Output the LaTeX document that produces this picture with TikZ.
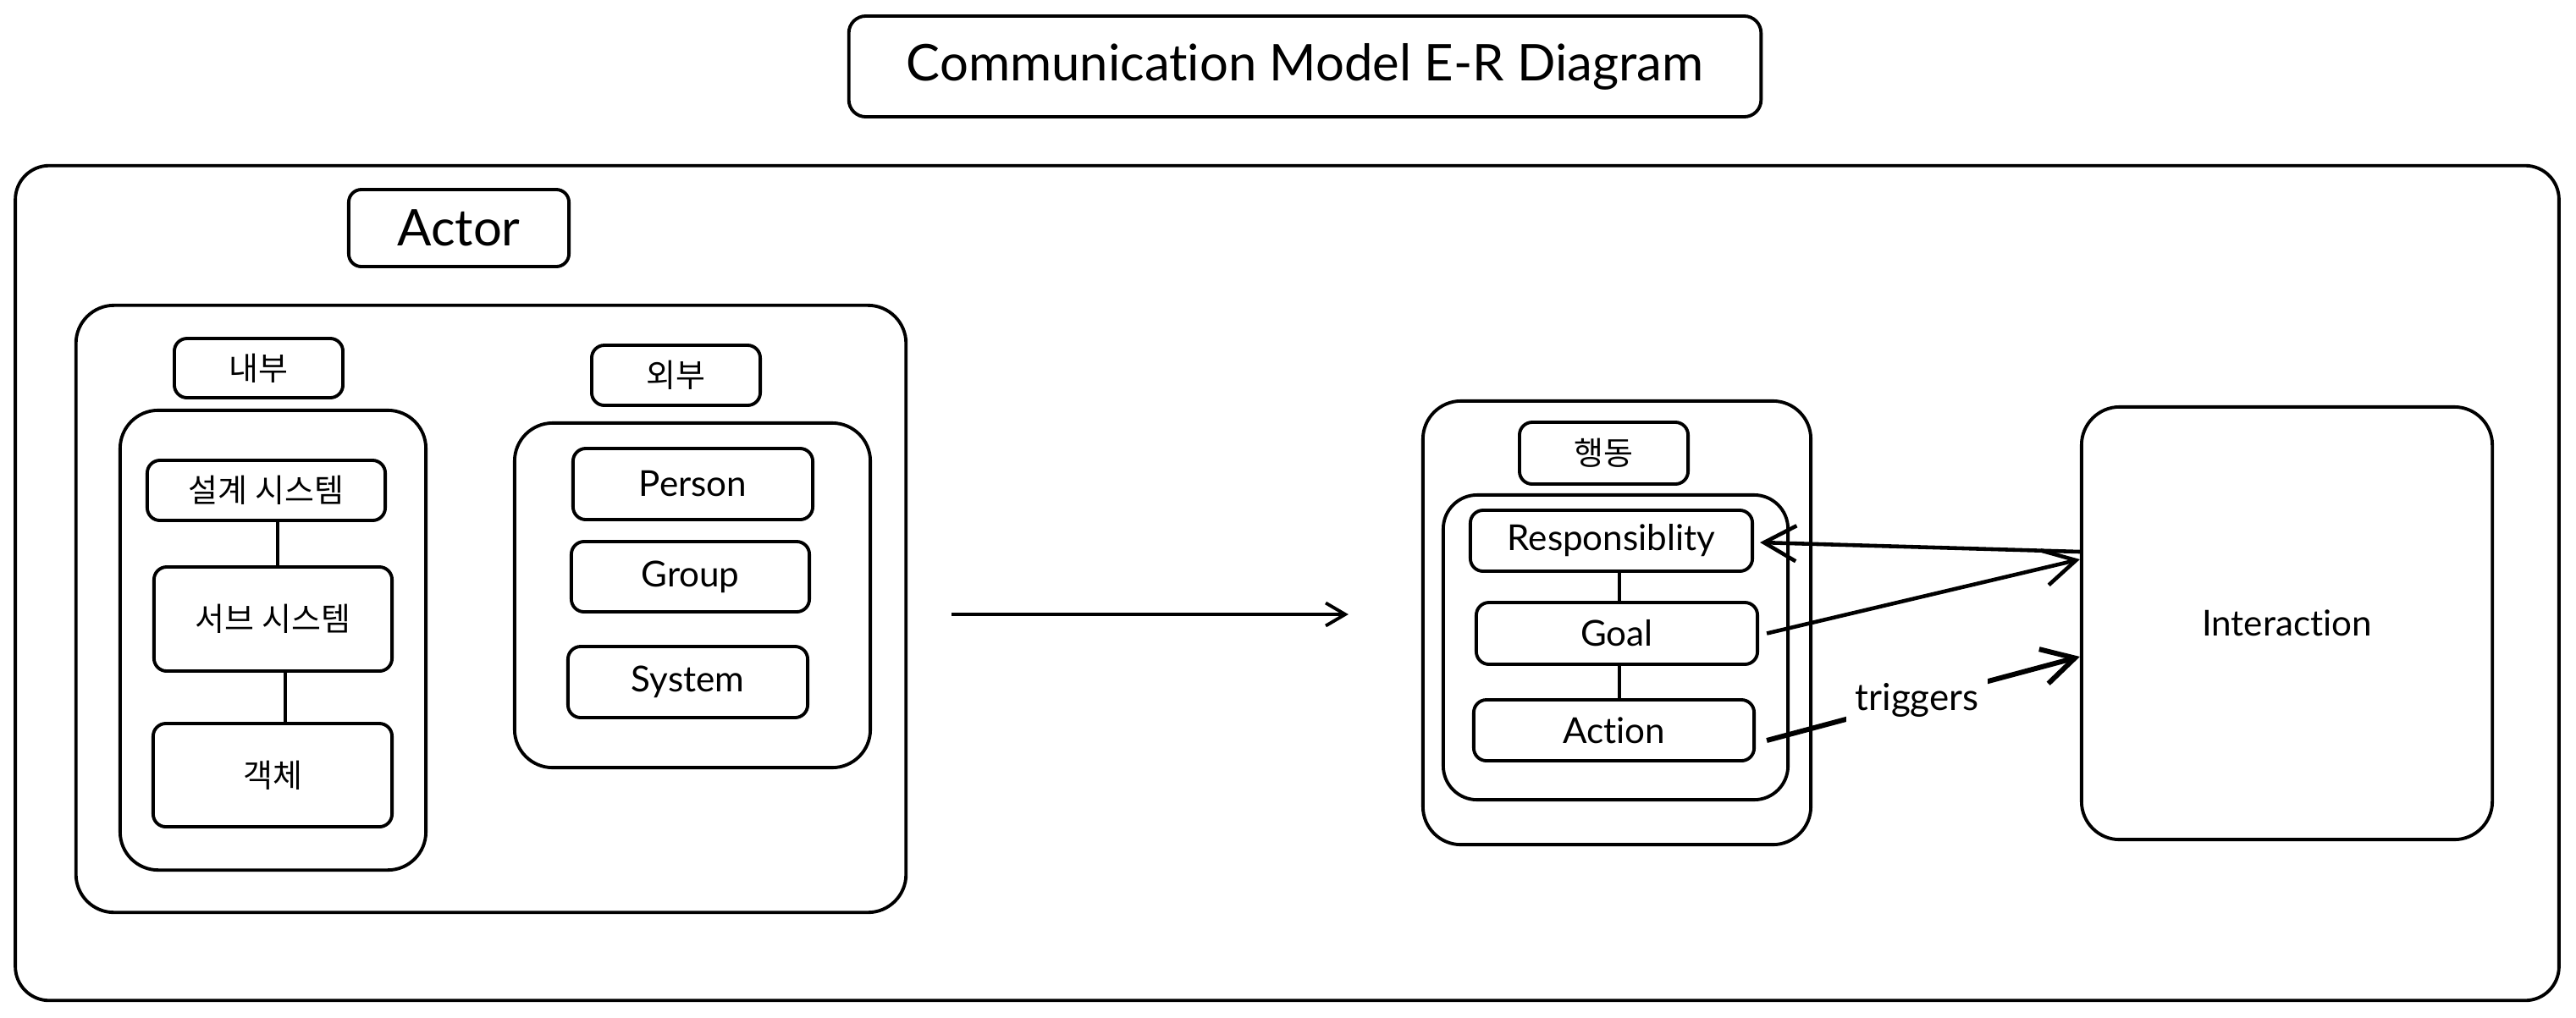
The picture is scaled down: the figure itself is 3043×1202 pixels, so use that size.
\documentclass[tikz,border=0pt]{standalone}
\usepackage{fontspec}
\setmainfont{Lato}[Ligatures=NoCommon]
\newfontfamily\kr{Noto Sans CJK KR}
\usetikzlibrary{arrows.meta,calc}
\begin{document}
\begin{tikzpicture}[x=0.01cm,y=-0.01cm,line width=1.1pt,
  box/.style={draw,rounded corners=0.15cm,align=center,inner sep=0pt},
  lbl/.style={box,font=\fontsize{12}{14}\selectfont},
  kor/.style={box,font=\kr\fontsize{10.8}{12}\selectfont},
  cont/.style={draw,rounded corners=0.45cm,inner sep=0pt},
  arr/.style={-{Straight Barb[length=0.23cm,width=0.27cm]}},
  bigarr/.style={-{Straight Barb[length=0.38cm,width=0.42cm]}}]
\useasboundingbox (0,0) rectangle (3043,1202);
% outer frame and title
\node[cont,rounded corners=0.4cm,minimum width=30.03cm,minimum height=9.86cm] (outer) at (1520.5,689) {};
\node[box,rounded corners=0.2cm,minimum width=10.77cm,minimum height=1.19cm,font=\fontsize{17}{20}\selectfont] (title) at (1541.5,78.5) {Communication Model E-R Diagram};
% actor part
\node[box,minimum width=2.6cm,minimum height=0.91cm,font=\fontsize{17}{20}\selectfont] (actor) at (542,269.5) {Actor};
\node[cont,minimum width=9.8cm,minimum height=7.17cm] (actc) at (580,719.5) {};
\node[kor,minimum width=1.99cm,minimum height=0.70cm] (inl) at (305.5,435) {내부};
\node[kor,minimum width=1.99cm,minimum height=0.71cm] (exl) at (798.5,443.5) {외부};
\node[cont,minimum width=3.61cm,minimum height=5.43cm] (inc) at (322.5,756.5) {};
\node[kor,minimum width=2.81cm,minimum height=0.71cm] (s1) at (314.5,579.5) {설계 시스템};
\node[kor,minimum width=2.81cm,minimum height=1.23cm] (s2) at (322.5,731.5) {서브 시스템};
\node[kor,minimum width=2.82cm,minimum height=1.22cm] (s3) at (322,916) {객체};
\node[cont,minimum width=4.20cm,minimum height=4.07cm] (exc) at (818,703.5) {};
\node[lbl,minimum width=2.83cm,minimum height=0.84cm] (person) at (818.5,572) {Person};
\node[lbl,minimum width=2.81cm,minimum height=0.83cm] (group) at (815.5,681.5) {Group};
\node[lbl,minimum width=2.83cm,minimum height=0.84cm] (system) at (812.5,806) {System};
\draw (s1.south -| 328,0) -- (s2.north -| 328,0);
\draw (s2.south -| 337,0) -- (s3.north -| 337,0);
% behaviour part
\node[cont,minimum width=4.58cm,minimum height=5.24cm] (beh) at (1910,736) {};
\node[kor,minimum width=1.99cm,minimum height=0.73cm] (behl) at (1894.5,535.5) {행동};
\node[cont,rounded corners=0.4cm,minimum width=4.07cm,minimum height=3.60cm] (behc) at (1908.5,765) {};
\node[lbl,minimum width=3.33cm,minimum height=0.72cm] (resp) at (1903.5,639) {Responsiblity};
\node[lbl,minimum width=3.32cm,minimum height=0.73cm] (goal) at (1910,748.5) {Goal};
\node[lbl,minimum width=3.31cm,minimum height=0.72cm] (action) at (1906.5,863) {Action};
\draw (resp.south -| 1913,0) -- (goal.north -| 1913,0);
\draw (goal.south -| 1913,0) -- (action.north -| 1913,0);
% interaction
\node[cont,minimum width=4.85cm,minimum height=5.11cm,font=\fontsize{12}{14}\selectfont] (inter) at (2701.5,736.5) {Interaction};
% connectors
\draw[arr,shorten <=0.52cm,shorten >=0.86cm] (actc.east |- 0,726) -- (beh.west |- 0,726);
\draw[bigarr,line width=1.3pt] (inter.west |- 0,652) -- ($(resp.east)+(7,2)$);
\draw[bigarr,line width=1.3pt] ($(goal.east)+(9,0)$) -- (inter.west |- 0,661);
\draw[bigarr,line width=1.7pt] ($(action.east)+(13,12)$) -- node[fill=white,inner sep=3pt,font=\fontsize{12.5}{14}\selectfont,pos=0.48] (trig) {triggers} (inter.west |- 0,776);
\end{tikzpicture}
\end{document}
